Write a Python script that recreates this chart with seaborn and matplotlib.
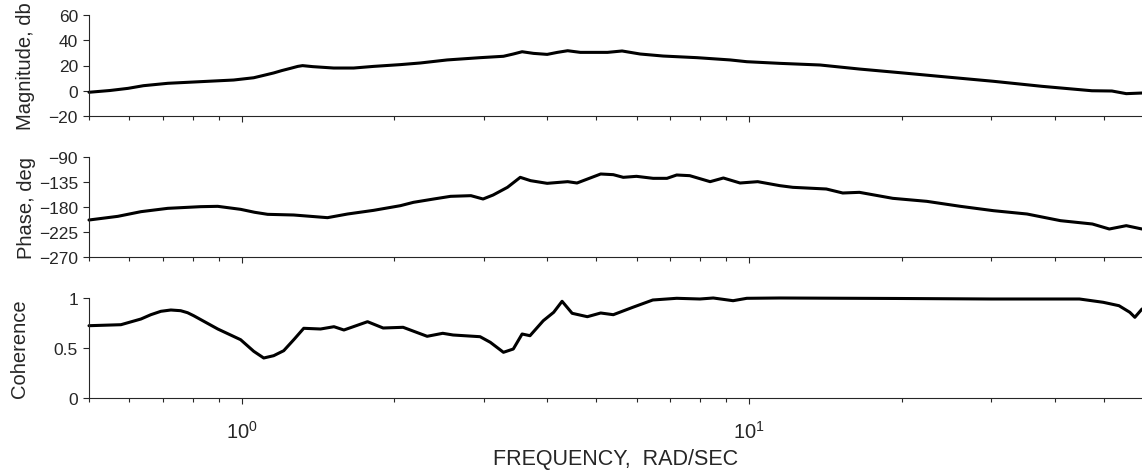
import numpy as np
import pandas as pd
import matplotlib
matplotlib.use("Agg")
import matplotlib.pyplot as plt
import seaborn as sns
from matplotlib.ticker import LogLocator, NullFormatter

# ---------------- data ----------------
mag_freq = [0.5, 0.55, 0.597, 0.64, 0.715, 0.83, 0.964, 1.056, 1.1, 1.156, 1.2, 1.249, 1.29,
            1.318, 1.38, 1.518, 1.662, 1.82, 2.055, 2.25, 2.54, 2.95, 3.28, 3.43, 3.57,
            3.76, 4.0, 4.19, 4.39, 4.65, 5.26, 5.62, 6.1, 6.77, 7.9, 9.18, 9.9, 11.5,
            13.8, 16.5, 20.1, 24.5, 30.3, 37.8, 47.4, 51.9, 55.4, 59.5]
mag_db = [-1.2, 0.2, 1.9, 4.0, 5.9, 7.2, 8.5, 10.3, 12.0, 14.1, 16.0, 17.8, 19.3,
          19.9, 19.1, 18.0, 18.0, 19.3, 20.7, 22.0, 24.4, 26.2, 27.3, 29.1, 30.9,
          29.6, 28.8, 30.4, 31.7, 30.4, 30.4, 31.5, 29.1, 27.5, 26.2, 24.4, 23.0, 21.7,
          20.4, 17.2, 14.1, 10.9, 7.5, 3.5, 0.0, -0.2, -2.3, -1.8]

ph_freq = [0.5, 0.57, 0.633, 0.715, 0.83, 0.897, 0.995, 1.06, 1.125, 1.266, 1.476, 1.617,
           1.82, 2.055, 2.18, 2.39, 2.58, 2.83, 2.99, 3.13, 3.34, 3.54, 3.71, 4.0,
           4.39, 4.58, 5.1, 5.4, 5.65, 6.0, 6.47, 6.89, 7.2, 7.64, 8.38, 8.9, 9.6,
           10.4, 11.5, 12.2, 14.2, 15.3, 16.5, 19.2, 22.4, 26.1, 30.3, 35.3, 41.1,
           47.5, 51.3, 55.4, 59.5]
ph_deg = [-203.4, -196.8, -188.4, -182.4, -179.4, -178.8, -184.2, -189.5, -193.2, -194.4, -199.2, -192.6,
          -186.0, -177.6, -171.6, -165.6, -160.8, -159.6, -165.6, -158.4, -144.6, -126.6, -132.6, -137.4,
          -134.4, -136.8, -120.6, -121.8, -126.6, -124.8, -128.4, -128.4, -122.4, -123.6, -134.4, -127.8, -136.8,
          -134.4, -141.6, -144.6, -147.6, -154.8, -153.6, -164.4, -169.8, -178.8, -186.6, -192.6, -204.6,
          -210.6, -219.6, -213.6, -219.6]

coh_freq = [0.5, 0.578, 0.633, 0.662, 0.693, 0.725, 0.758, 0.782, 0.804, 0.897, 0.995,
            1.056, 1.105, 1.156, 1.21, 1.27, 1.325, 1.43, 1.52, 1.59, 1.77, 1.9, 2.08,
            2.32, 2.49, 2.61, 2.95, 3.09, 3.28, 3.43, 3.57, 3.7, 3.93, 4.12, 4.28, 4.48,
            4.8, 5.1, 5.4, 5.9, 6.46, 7.2, 8.0, 8.5, 9.3, 9.9, 11.5, 20.0, 30.0, 44.8,
            49.9, 53.6, 56.3, 57.6, 59.5]
coh_val = [0.723, 0.733, 0.79, 0.833, 0.867, 0.88, 0.873, 0.853, 0.823, 0.69, 0.583,
           0.467, 0.40, 0.423, 0.473, 0.59, 0.697, 0.69, 0.713, 0.68, 0.763, 0.70, 0.707,
           0.617, 0.647, 0.63, 0.613, 0.557, 0.457, 0.49, 0.64, 0.623, 0.773, 0.857, 0.967, 0.847,
           0.813, 0.85, 0.833, 0.907, 0.98, 0.997, 0.99, 1.0, 0.973, 0.997, 1.0, 0.995, 0.99, 0.99,
           0.957, 0.923, 0.857, 0.807, 0.89]

mag_ticks = [-20, 0, 20, 40, 60]
ph_ticks = [-270, -225, -180, -135, -90]
coh_ticks = [0, 0.5, 1]
coh_ticklabels = ["0", "0.5", "1"]

ylabels = ["Magnitude, db", "Phase, deg", "Coherence"]
xlabel = "FREQUENCY,  RAD/SEC"

# ---------------- style ----------------
sns.set_theme(style="ticks")
TXT = "#262626"
plt.rcParams["font.family"] = ["Liberation Sans", "DejaVu Sans"]
plt.rcParams.update({
    "axes.edgecolor": TXT,
    "axes.linewidth": 0.8,
    "xtick.color": TXT,
    "ytick.color": TXT,
    "xtick.labelcolor": TXT,
    "ytick.labelcolor": TXT,
    "axes.labelcolor": TXT,
    "xtick.direction": "out",
    "ytick.direction": "out",
})

W, H = 1142, 477
fig = plt.figure(figsize=(W / 100, H / 100), dpi=100)

left = 89 / W
width = (W - 89) / W
panels = [(16, 117), (158, 258), (299, 399)]
axes = []
for top, bot in panels:
    ax = fig.add_axes([left, (H - bot) / H, width, (bot - top) / H])
    axes.append(ax)

frames = [
    pd.DataFrame({"freq": mag_freq, "val": mag_db}),
    pd.DataFrame({"freq": ph_freq, "val": ph_deg}),
    pd.DataFrame({"freq": coh_freq, "val": coh_val}),
]
ylims = [(-20, 60), (-270, -90), (0, 1)]
yticks = [mag_ticks, ph_ticks, coh_ticks]
label_x_px = [35, 36, 29]

for i, (ax, df) in enumerate(zip(axes, frames)):
    sns.lineplot(data=df, x="freq", y="val", ax=ax, color="black",
                 linewidth=2.2, estimator=None, sort=False, clip_on=False,
                 solid_joinstyle="round", solid_capstyle="round")
    ax.set_xscale("log")
    ax.set_xlim(0.5, 59.5)
    ax.set_ylim(*ylims[i])
    ax.set_yticks(yticks[i])
    if i == 2:
        ax.set_yticklabels(coh_ticklabels)
    sns.despine(ax=ax)
    ax.xaxis.set_major_locator(LogLocator(base=10))
    ax.xaxis.set_minor_locator(LogLocator(base=10, subs=np.arange(2, 10)))
    ax.xaxis.set_minor_formatter(NullFormatter())
    ax.tick_params(axis="both", which="major", length=4, width=0.8, labelsize=12.5, pad=4)
    ax.tick_params(axis="x", which="minor", length=3, width=0.8)
    ax.set_ylabel(ylabels[i], fontsize=14.5)
    ax.yaxis.set_label_coords((label_x_px[i] - 89) / (W - 89), 0.5)
    if i < 2:
        ax.tick_params(axis="x", which="both", labelbottom=False)
        ax.set_xlabel("")
    else:
        ax.tick_params(axis="x", which="major", pad=11.5, labelsize=14.5)
        ax.set_xlabel(xlabel, fontsize=15.5, labelpad=5)

fig.savefig("out.png", dpi=100)
